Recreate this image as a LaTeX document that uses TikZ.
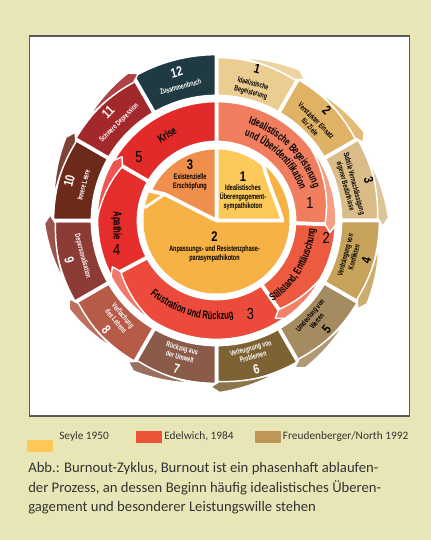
\documentclass[tikz,border=0pt]{standalone}
\usepackage{fontspec}
\setmainfont{Carlito}
\newfontfamily\cnd[FakeStretch=0.68]{Liberation Sans}
\newfontfamily\cnum[FakeStretch=0.8]{Liberation Sans}
\usetikzlibrary{decorations.text}
\definecolor{bg}{HTML}{E8E6B6}
\definecolor{frame}{HTML}{5A5A5A}
\definecolor{captxt}{HTML}{333333}
\definecolor{o1}{HTML}{EBCD92}
\definecolor{o2}{HTML}{DFB265}
\definecolor{o3}{HTML}{D9BC88}
\definecolor{o4}{HTML}{C6A25A}
\definecolor{o5}{HTML}{A58B60}
\definecolor{o6}{HTML}{7D6333}
\definecolor{o7}{HTML}{8B5B49}
\definecolor{o8}{HTML}{B65B47}
\definecolor{o9}{HTML}{8C3B35}
\definecolor{o10}{HTML}{6B2A1A}
\definecolor{o11}{HTML}{A3282B}
\definecolor{o12}{HTML}{1F3A42}
\definecolor{m1}{HTML}{F07E5E}
\definecolor{m1f}{HTML}{F49E82}
\definecolor{m2}{HTML}{EC5A3F}
\definecolor{m2f}{HTML}{F38068}
\definecolor{m3}{HTML}{EC4A3A}
\definecolor{m3f}{HTML}{F2786A}
\definecolor{m4}{HTML}{E52E2C}
\definecolor{m4f}{HTML}{EE5552}
\definecolor{m5}{HTML}{E32A2A}
\definecolor{i1}{HTML}{FDC95B}
\definecolor{i2}{HTML}{F7B245}
\definecolor{i3}{HTML}{F08E4B}
\definecolor{legy}{HTML}{FDC857}
\definecolor{legr}{HTML}{EA5535}
\definecolor{legt}{HTML}{BE9658}
% annular sector: style, start, end, inner r, outer r
\newcommand\annfill[5]{\filldraw[#1] (#2:#5) arc[start angle=#2,end angle=#3,radius=#5] -- (#3:#4) arc[start angle=#3,end angle=#2,radius=#4] -- cycle;}
% flap: style, s, e, R0, d, g, tip
\newcommand\flapfill[7]{\filldraw[#1] plot[domain=#2:#3,samples=24,variable=\t] (\t:{#4+#6*(\t-(#2))/((#3)-(#2))}) -- ({#3-#7}:{#4+(#6-#5)/2}) -- plot[domain=#3:#2,samples=24,variable=\t] (\t:{#4-#5*(\t-(#2))/((#3)-(#2))}) -- cycle;}
\newcommand\onum[1]{{\cnum\fontsize{10}{10}\selectfont #1}}
\newcommand\inum[1]{{\cnum\fontsize{10.5}{10.5}\selectfont #1}}
\begin{document}
\begin{tikzpicture}[x=0.75pt,y=0.75pt,
  seg/.style={draw=white, line width=2.8pt, line join=round},
  flp/.style={draw=white, line width=1.1pt, line join=round},
  ot/.style={font=\cnd\bfseries\fontsize{5.8}{6.7}\selectfont, align=center, inner sep=0pt},
  mt/.style={font=\cnd\bfseries\fontsize{8.6}{9}\selectfont, inner sep=0pt},
  mnum/.style={font=\cnum\fontsize{12}{12}\selectfont, inner sep=0pt},
  it/.style={font=\cnd\bfseries\fontsize{6}{6.8}\selectfont, align=center, inner sep=0pt},
  captx/.style={font=\fontsize{11}{13}\selectfont, text=captxt, inner sep=0pt, anchor=base west},
  legtx/.style={font=\fontsize{8.5}{10}\selectfont, text=captxt, inner sep=0pt, anchor=west},
]
\fill[bg] (0,0) rectangle (431,-540);
\draw[frame, fill=white, line width=1.1pt] (29.5,-36) rectangle (409.5,-416);
\begin{scope}[shift={(216.5,-220.5)}]
% outer ring blocks
\foreach \k/\col in {1/o1,2/o2,3/o3,4/o4,5/o5,6/o6,7/o7,8/o8,9/o9,10/o10,11/o11}{
  \pgfmathsetmacro\a{90-30*(\k-1)}
  \pgfmathsetmacro\b{\a-30}
  \annfill{seg, fill=\col}{\a}{\b}{124}{164}
}
\annfill{seg, fill=o12}{120}{90}{124}{167}
% outer flaps
\foreach \k/\col in {1/o1,2/o2,3/o3,4/o4,5/o5,6/o6,7/o7,8/o8,9/o9,10/o10,11/o11}{
  \pgfmathsetmacro\s{90-30*(\k-1)-8}
  \pgfmathsetmacro\e{90-30*(\k-1)-29}
  \flapfill{flp, fill=\col!88!white}{\s}{\e}{164}{3}{8}{3}
}
% middle ring
\annfill{seg, fill=m1}{90}{-2}{78}{120}
\annfill{seg, fill=m2}{-2}{-55}{78}{120}
\annfill{seg, fill=m3}{-55}{-152}{78}{120}
\annfill{seg, fill=m4}{-152}{-210}{78}{120}
\annfill{seg, fill=m5}{150}{90}{78}{120}
\flapfill{flp, fill=m1f}{40}{-2}{119.5}{11}{0}{4}
\flapfill{flp, fill=m2f}{-28}{-55}{119.5}{11}{0}{4}
\flapfill{flp, fill=m3f}{-122}{-152}{119.5}{11}{0}{4}
\flapfill{flp, fill=m4f}{-180}{-210}{119.5}{11}{0}{4}
% inner disk
\fill[i2] (0,0) circle[radius=73];
\filldraw[seg, fill=i1] (0,0) -- (90:73) arc[start angle=90,end angle=50,radius=73] .. controls (35:63) and (12:64) .. (0:66) -- cycle;
\filldraw[seg, fill=i3] (0,0) -- (153:58) -- (156:73) arc[start angle=156,end angle=90,radius=73] -- cycle;
\draw[white, line width=2pt] (153:58) -- (170:73);
% outer texts
\node[ot] (t1) at (75:145) [rotate=-15] {\onum{1}\\[3pt]Idealistische\\Begeisterung};
\node[ot] (t2) at (45:145) [rotate=-45] {\onum{2}\\[3pt]Verstärkter Einsatz\\für Ziele};
\node[ot] (t3) at (15:146) [rotate=-75] {\onum{3}\\[3pt]Subtile Vernachlässigung\\eigener Bedürfnisse};
\node[ot] (t4) at (-15:145) [rotate=75] {Verdrängung von\\Konflikten\\[3pt]\onum{4}};
\node[ot] (t5) at (-45:145) [rotate=50] {Umdeutung von\\Werten\\[3pt]\onum{5}};
\node[ot, text=white] (t6) at (-75:144) [rotate=15] {Verleugnung von\\Problemen\\[3pt]\onum{6}};
\node[ot, text=white] (t7) at (-105:144) [rotate=-15] {Rückzug aus\\der Umwelt\\[3pt]\onum{7}};
\node[ot, text=white] (t8) at (-135:145) [rotate=-50] {Verflachung\\des Lebens\\[3pt]\onum{8}};
\node[ot, text=white] (t9) at (-165:146) [rotate=-75] {Depersonalisation\\[3pt]\onum{9}};
\node[ot, text=white] (t10) at (165:146) [rotate=75] {\onum{10}\\[3pt]Innere Leere};
\node[ot, text=white] (t11) at (135:146) [rotate=45] {\onum{11}\\[3pt]Schwere Depression};
\node[ot, text=white] (t12) at (105:147) [rotate=15] {\onum{12}\\[3pt]Zusammenbruch};
% middle texts
\path[decorate, decoration={text along path, text align=center, text={|\cnd\bfseries\fontsize{8.3}{9}\selectfont|Idealistische Begeisterung}}] (84:102) arc[start angle=84, end angle=6, radius=102];
\path[decorate, decoration={text along path, text align=center, text={|\cnd\bfseries\fontsize{8.3}{9}\selectfont|und Überidentifikation}}] (86:89) arc[start angle=86, end angle=6, radius=89];
\path[decorate, decoration={text along path, text align=center, text={|\cnd\bfseries\fontsize{8.2}{9}\selectfont|Stillstand, Enttäuschung}}] (-66:99) arc[start angle=-66, end angle=6, radius=99];
\path[decorate, decoration={text along path, text align=center, text={|\cnd\bfseries\fontsize{8.4}{9}\selectfont|Frustration und Rückzug}}] (-145:99) arc[start angle=-145, end angle=-67, radius=99];
\node[mt] (ap) at (-177:100) [rotate=-90] {Apathie};
\node[mt] (kr) at (120:99) [rotate=30] {Krise};
\node[mnum] (n1) at (10.6:95) {1};
\node[mnum] (n2) at (-9:111) {2};
\node[mnum] (n3) at (-70:99) {3};
\node[mnum] (n4) at (-163.5:104) {4};
\node[mnum] (n5) at (140.8:100) {5};
% inner texts
\node[it] (s1) at (26.5,29.5) {\inum{1}\\Idealistisches\\Überengagement-\\sympathikoton};
\node[it] (s3) at (-26.5,45.5) {\inum{3}\\Existenzielle\\Erschöpfung};
\node[it] (s2) at (-2,-26.5) {\inum{2}\\Anpassungs- und Resistenzphase-\\parasympathikoton};
\end{scope}
% legend
\fill[legy] (27.3,-440) rectangle (52.7,-452.3);
\fill[legr] (136,-431) rectangle (161.7,-443.3);
\fill[legt] (255,-431) rectangle (280.7,-443.3);
\node[legtx] (l1) at (59,-436.7) {Seyle 1950};
\node[legtx] (l2) at (164,-436.7) {Edelwich, 1984};
\node[legtx] (l3) at (282.7,-436.7) {Freudenberger/North 1992};
% caption
\node[captx] (c1) at (28,-472) {Abb.: Burnout-Zyklus, Burnout ist ein phasenhaft ablaufen-};
\node[captx] (c2) at (28,-492) {der Prozess, an dessen Beginn häufig idealistisches Überen-};
\node[captx] (c3) at (28,-511.5) {gagement und besonderer Leistungswille stehen};
\end{tikzpicture}
\end{document}
